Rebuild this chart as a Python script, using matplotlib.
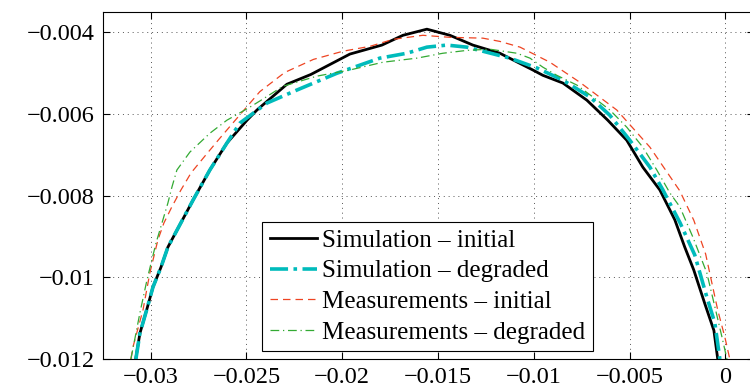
import matplotlib
matplotlib.use("Agg")
import matplotlib.pyplot as plt

# Simulation - initial
sim_init_x = [-0.03078, -0.03056, -0.03021, -0.02988, -0.02946, -0.02910, -0.02779, -0.02691,
              -0.02602, -0.02497, -0.02445, -0.02289, -0.02164, -0.01960, -0.01793, -0.01683,
              -0.01558, -0.01438, -0.01318, -0.01177, -0.01005, -0.00953, -0.00848, -0.00723,
              -0.00614, -0.00515, -0.00431, -0.00342, -0.00264, -0.00212, -0.00165, -0.00107,
              -0.00060, -0.00040]
sim_init_y = [-0.01200, -0.01137, -0.01080, -0.01024, -0.00975, -0.00926, -0.00811, -0.00737,
              -0.00671, -0.00615, -0.00590, -0.00527, -0.00503, -0.00453, -0.00431, -0.00407,
              -0.00392, -0.00407, -0.00431, -0.00451, -0.00492, -0.00505, -0.00524, -0.00566,
              -0.00615, -0.00664, -0.00730, -0.00786, -0.00859, -0.00926, -0.00982, -0.01065,
              -0.01130, -0.01200]

# Simulation - degraded
sim_deg_x = [-0.03077, -0.03056, -0.03021, -0.02988, -0.02946, -0.02910, -0.02779, -0.02691,
             -0.02602, -0.02534, -0.02393, -0.02236, -0.02028, -0.01804, -0.01663,
             -0.01558, -0.01454, -0.01350, -0.01266, -0.01125, -0.00984, -0.00848, -0.00707,
             -0.00603, -0.00499, -0.00394, -0.00326, -0.00237, -0.00160, -0.00097, -0.00055,
             -0.00029]
sim_deg_y = [-0.01200, -0.01137, -0.01080, -0.01024, -0.00975, -0.00926, -0.00811, -0.00737,
             -0.00671, -0.00622, -0.00573, -0.00541, -0.00500, -0.00463, -0.00451,
             -0.00436, -0.00431, -0.00436, -0.00446, -0.00463, -0.00487, -0.00517, -0.00558,
             -0.00603, -0.00664, -0.00730, -0.00786, -0.00866, -0.00945, -0.01048, -0.01112,
             -0.01200]

# Measurements - initial
meas_init_x = [-0.03103, -0.03092, -0.03040, -0.03004, -0.02962, -0.02931, -0.02889, -0.02842,
               -0.02789, -0.02717, -0.02644, -0.02540, -0.02430, -0.02300, -0.02150, -0.01996,
               -0.01855, -0.01735, -0.01579, -0.01438, -0.01266, -0.01177, -0.01072, -0.00916,
               -0.00760, -0.00567, -0.00394, -0.00238, -0.00165, -0.00103, -0.00040, -0.00003,
               0.00023]
meas_init_y = [-0.01200, -0.01170, -0.01080, -0.00989, -0.00908, -0.00867, -0.00827, -0.00786,
               -0.00744, -0.00703, -0.00662, -0.00605, -0.00545, -0.00498, -0.00466, -0.00446,
               -0.00434, -0.00417, -0.00407, -0.00412, -0.00414, -0.00422, -0.00436, -0.00473,
               -0.00522, -0.00590, -0.00681, -0.00788, -0.00860, -0.00943, -0.01080, -0.01146,
               -0.01200]

# Measurements - degraded
meas_deg_x = [-0.03103, -0.03056, -0.03019, -0.02972, -0.02936, -0.02910, -0.02889, -0.02863,
              -0.02795, -0.02691, -0.02602, -0.02482, -0.02420, -0.02310, -0.02132, -0.01960,
              -0.01788, -0.01611, -0.01475, -0.01350, -0.01230, -0.01088, -0.01020, -0.00953,
              -0.00880, -0.00775, -0.00692, -0.00603, -0.00515, -0.00431, -0.00358, -0.00290,
              -0.00238, -0.00170, -0.00097, -0.00055, -0.00018, 0.00008]
meas_deg_y = [-0.01200, -0.01087, -0.01006, -0.00916, -0.00859, -0.00818, -0.00779, -0.00737,
              -0.00693, -0.00647, -0.00615, -0.00583, -0.00565, -0.00532, -0.00507, -0.00492,
              -0.00473, -0.00463, -0.00451, -0.00444, -0.00441, -0.00451, -0.00463, -0.00485,
              -0.00505, -0.00529, -0.00558, -0.00590, -0.00632, -0.00681, -0.00737, -0.00793,
              -0.00827, -0.00901, -0.00989, -0.01072, -0.01146, -0.01200]

x_ticks = [-0.03, -0.025, -0.02, -0.015, -0.01, -0.005, 0]
x_labels = ["\u22120.03", "\u22120.025", "\u22120.02", "\u22120.015", "\u22120.01", "\u22120.005", "0"]
y_ticks = [-0.012, -0.01, -0.008, -0.006, -0.004]
y_labels = ["\u22120.012", "\u22120.01", "\u22120.008", "\u22120.006", "\u22120.004"]

plt.rcParams["font.family"] = ["Liberation Serif", "DejaVu Serif"]

fig = plt.figure(figsize=(7.5, 3.88), dpi=100)
ax = fig.add_axes([0.137, 0.0747, 0.8685, 0.8943])

ax.plot(sim_init_x, sim_init_y, color="black", lw=2.0, label="Simulation \u2013 initial")
ax.plot(sim_deg_x, sim_deg_y, color="#00BBBB", lw=2.6, linestyle=(0, (5, 1.5, 1, 1.5)),
        label="Simulation \u2013 degraded")
ax.plot(meas_init_x, meas_init_y, color="#EE4422", lw=0.9, linestyle=(0, (6, 4)),
        label="Measurements \u2013 initial")
ax.plot(meas_deg_x, meas_deg_y, color="#33AA33", lw=0.9, linestyle=(0, (7, 3, 1, 3)),
        label="Measurements \u2013 degraded")

ax.set_xlim(-0.0325, 0.0015)
ax.set_ylim(-0.012, -0.0035)
ax.set_xticks(x_ticks)
ax.set_xticklabels(x_labels)
ax.set_yticks(y_ticks)
ax.set_yticklabels(y_labels)
ax.tick_params(direction="in", top=True, right=True, length=5, width=0.8, labelsize=17.5, pad=6)
ax.grid(True, linestyle=(0, (1, 4)), color="#555555", lw=0.7)
for s in ax.spines.values():
    s.set_linewidth(0.8)

leg = ax.legend(loc="lower left", bbox_to_anchor=(0.245, 0.022), fontsize=18, fancybox=False,
                framealpha=1, edgecolor="black", handlelength=1.9, handletextpad=0.2,
                borderpad=0.3, labelspacing=0.33, borderaxespad=0)
leg.get_frame().set_linewidth(0.8)

fig.savefig("out.png", dpi=100)
